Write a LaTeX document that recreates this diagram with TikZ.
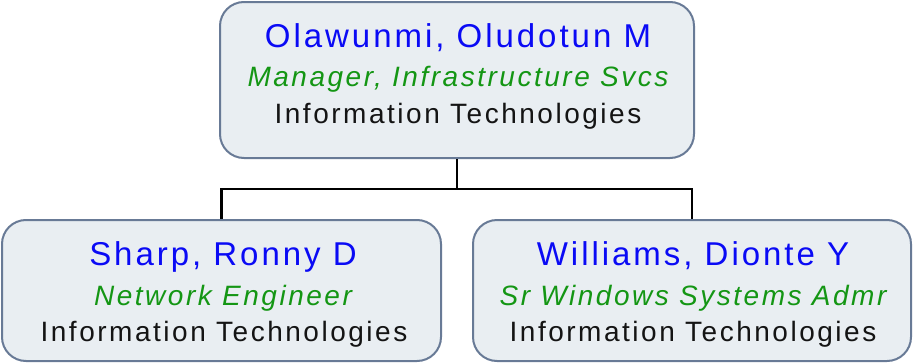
\documentclass[tikz,border=0pt]{standalone}
\usepackage{fontspec}
\newfontfamily\orgfont[LetterSpace=9]{Liberation Sans}
\definecolor{boxfill}{RGB}{233,238,242}
\definecolor{boxline}{RGB}{104,122,150}
\definecolor{namecol}{RGB}{10,10,245}
\definecolor{titlecol}{RGB}{20,150,20}
\definecolor{infocol}{RGB}{20,20,20}
\tikzset{
  orgbox/.style={draw=boxline, fill=boxfill, line width=2pt, rounded corners=24pt, inner sep=0pt},
  nametext/.style={anchor=base, inner sep=0pt, font=\orgfont\fontsize{33}{35}\selectfont, text=namecol},
  titletext/.style={anchor=base, inner sep=0pt, font=\orgfont\itshape\fontsize{28}{30}\selectfont, text=titlecol},
  infotext/.style={anchor=base, inner sep=0pt, font=\orgfont\fontsize{28}{30}\selectfont, text=infocol},
  link/.style={draw=black, line width=2.5pt}
}
\begin{document}
\begin{tikzpicture}[x=1pt,y=-1pt]
\useasboundingbox (0,0) rectangle (913,364);
% boxes
\node[orgbox, minimum width=474pt, minimum height=156pt] (top) at (457,80) {};
\node[orgbox, minimum width=439pt, minimum height=141pt] (left) at (221.5,290.5) {};
\node[orgbox, minimum width=438pt, minimum height=141pt] (right) at (692,290.5) {};
% connectors
\coordinate (bar) at (457,189);
\draw[link] (top.south) -- (bar) -| (left.north);
\draw[link] (bar) -| (right.north);
% top texts
\node[nametext] (topname) at (458,47) {Olawunmi, Oludotun M};
\node[titletext] (toptitle) at (458,86) {Manager, Infrastructure Svcs};
\node[infotext] (topinfo) at (458,123) {Information Technologies};
% left texts
\node[nametext] (leftname) at (223,265) {Sharp, Ronny D};
\node[titletext] (lefttitle) at (223,305) {Network Engineer};
\node[infotext] (leftinfo) at (224,341) {Information Technologies};
% right texts
\node[nametext] (rightname) at (693,265) {Williams, Dionte Y};
\node[titletext] (righttitle) at (693,305) {Sr Windows Systems Admr};
\node[infotext] (rightinfo) at (693,341) {Information Technologies};
\end{tikzpicture}
\end{document}
